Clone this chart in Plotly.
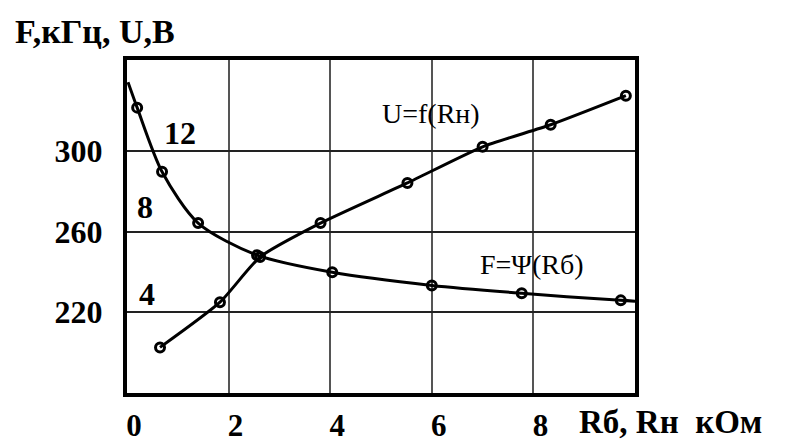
import plotly.graph_objects as go

# Frequency F (kHz) versus base resistance Rб (kOhm)
r_b = [0.20, 0.69, 1.40, 2.56, 4.04, 6.00, 7.77, 9.72]
f_khz = [321.4, 289.6, 264.2, 248.3, 239.8, 233.3, 229.4, 225.9]
# smooth curve through the measurements, extended to the frame edges
r_b_curve = [0.02] + r_b + [10.0]
f_curve = [334.0] + f_khz + [225.5]

# Voltage U (V) versus load resistance Rн (kOhm)
r_n = [0.65, 1.83, 2.62, 3.81, 5.52, 7.00, 8.34, 9.82]
u_volt = [1.37, 3.61, 5.85, 7.53, 9.52, 11.31, 12.40, 13.84]

x_ticks = [0, 2, 4, 6, 8]
f_ticks = [220, 260, 300]
u_ticks = [4, 8, 12]

SERIF = "Liberation Serif, Times New Roman, serif"

fig = go.Figure()

fig.add_trace(go.Scatter(
    x=r_b_curve, y=f_curve, mode="lines",
    line=dict(color="black", width=3, shape="spline", smoothing=0.8),
    showlegend=False, hoverinfo="skip"))
fig.add_trace(go.Scatter(
    x=r_b, y=f_khz, mode="markers",
    marker=dict(symbol="circle-open", size=9, color="black", line=dict(width=3)),
    showlegend=False))

fig.add_trace(go.Scatter(
    x=r_n, y=u_volt, mode="lines+markers", yaxis="y2",
    line=dict(color="black", width=3, shape="spline", smoothing=0.6),
    marker=dict(symbol="circle-open", size=9, color="black", line=dict(width=3)),
    showlegend=False))

fig.update_layout(
    width=787, height=442,
    margin=dict(l=127, r=152, t=60, b=49, autoexpand=False),
    paper_bgcolor="white", plot_bgcolor="white",
    font=dict(family=SERIF, color="black"),
    xaxis=dict(
        range=[0, 10], tickvals=x_ticks, ticktext=[str(v) for v in x_ticks],
        showgrid=True, gridcolor="#555555", gridwidth=2,
        showline=True, linecolor="black", linewidth=4, mirror=True,
        ticks="", ticklabelstandoff=2,
        ticklabelshift=7,
        tickfont=dict(family=SERIF, size=31, color="black", weight="bold"),
        zeroline=False, automargin=False),
    yaxis=dict(
        range=[180, 345], tickvals=f_ticks, ticktext=[str(v) for v in f_ticks],
        showgrid=True, gridcolor="#222222", gridwidth=2,
        showline=True, linecolor="black", linewidth=4, mirror=True,
        ticks="outside", ticklen=14, tickcolor="rgba(0,0,0,0)",
        tickfont=dict(family=SERIF, size=32, color="black", weight="bold"),
        zeroline=False, automargin=False),
    yaxis2=dict(
        range=[(180 - 188.9) / 10, (345 - 188.9) / 10],
        overlaying="y", side="left", showgrid=False, showticklabels=False,
        showline=False, zeroline=False, ticks="", automargin=False),
)

annotations = [
    dict(text="<b>F,кГц, U,B</b>", xref="paper", yref="paper",
         x=(13 - 127) / 508, y=(393 - 31) / 333, xanchor="left", yanchor="middle",
         showarrow=False, font=dict(family=SERIF, size=34)),
    dict(text="<b>Rб, Rн\u00a0\u00a0кОм</b>", xref="paper", yref="paper",
         x=(578 - 127) / 508, y=(393 - 441) / 333, xanchor="left", yanchor="bottom",
         borderpad=0, showarrow=False, font=dict(family=SERIF, size=33)),
    dict(text="U=f(Rн)", xref="x", yref="y", x=5.98, y=318.4,
         showarrow=False, font=dict(family=SERIF, size=28)),
    dict(text="F=Ψ(Rб)", xref="x", yref="y", x=7.97, y=243.9,
         showarrow=False, font=dict(family=SERIF, size=28)),
]
# U scale labels drawn inside the frame
u_label_x = [0.39, 0.355, 1.05]
u_label_shift = [0, 7, 0]
for val, xv, ys in zip(u_ticks, u_label_x, u_label_shift):
    annotations.append(dict(text=f"<b>{val}</b>", xref="x", yref="y2", x=xv, y=val,
                            yshift=ys, showarrow=False,
                            font=dict(family=SERIF, size=32)))
fig.update_layout(annotations=annotations)

fig.write_html("out.html")
